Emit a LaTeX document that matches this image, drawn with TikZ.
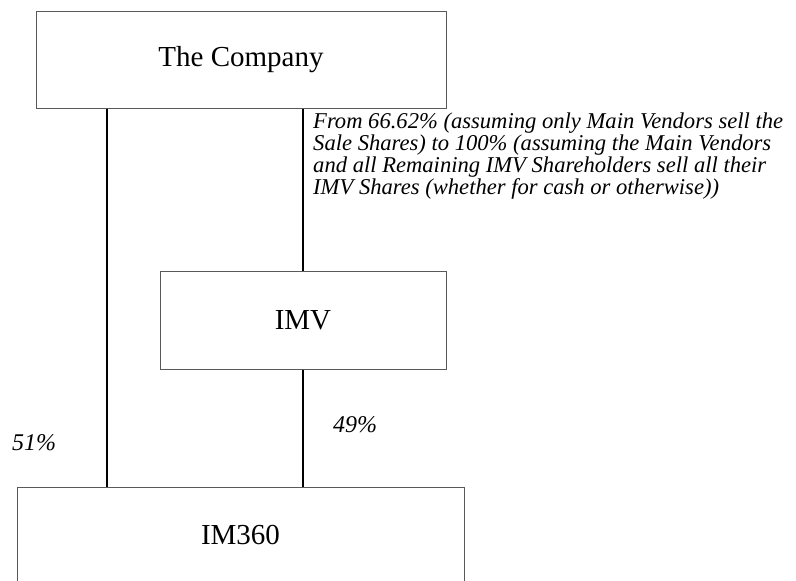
\documentclass[tikz,border=0pt]{standalone}
\usepackage{fontspec}
\setmainfont{Liberation Serif}

\begin{document}
\begin{tikzpicture}[x=1pt, y=-1pt,
  every node/.style={inner sep=0pt},
  holder/.style={draw=black!65, line width=1pt, fill=white, font=\fontsize{29}{34}\selectfont},
  stake/.style={line width=1.4pt},
  share/.style={font=\itshape\fontsize{24}{21.8}\selectfont},
  note/.style={font=\itshape\fontsize{22.6}{22}\selectfont, align=left}]

\useasboundingbox (0,0) rectangle (796,581);

\node[holder, minimum width=410pt, minimum height=97pt] (company) at (241,59.5) {The Company};
\node[holder, minimum width=286pt, minimum height=98pt] (imv) at (303,320) {IMV};
\node[holder, minimum width=447pt, minimum height=96pt] (im360) at (240.5,535) {IM360};

\coordinate (lx) at (107,0);

% ownership lines
\draw[stake] (company.south -| lx) -- (im360.north -| lx);
\draw[stake] (company.south -| imv.north) -- (imv.north);
\draw[stake] (imv.south) -- (im360.north -| imv.south);

\node[note, anchor=north west] (range) at (313,112.5)
  {From 66.62\% (assuming only Main Vendors sell the\\
   Sale Shares) to 100\% (assuming the Main Vendors\\
   and all Remaining IMV Shareholders sell all their\\
   IMV Shares (whether for cash or otherwise))};
\node[share] (left) at (34,443) {51\%};
\node[share] (right) at (355,425) {49\%};

\end{tikzpicture}
\end{document}
